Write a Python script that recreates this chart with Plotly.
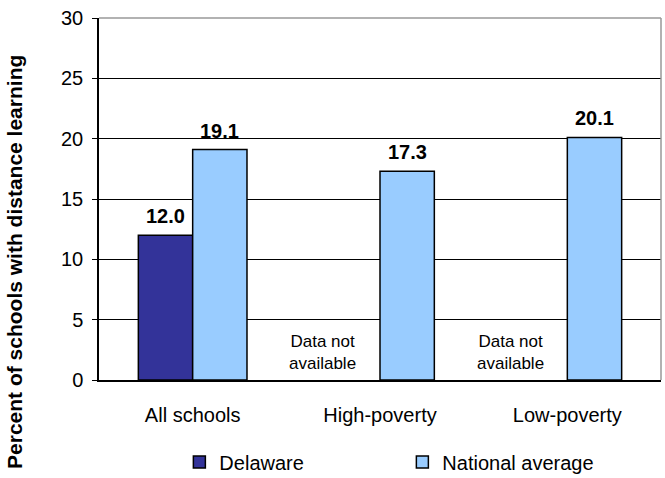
import plotly.graph_objects as go

categories = ["All schools", "High-poverty", "Low-poverty"]
delaware = [12.0, None, None]
national = [19.1, 17.3, 20.1]
y_ticks = [0, 5, 10, 15, 20, 25, 30]
na_text = "Data not<br>available"

FONT = "Liberation Sans, Arial, sans-serif"
x_pos = list(range(len(categories)))
bargap = 0.42
half = (1 - bargap) / 2  # width of one bar in category units

fig = go.Figure()
fig.add_trace(go.Bar(
    name="Delaware", x=x_pos, y=delaware,
    marker=dict(color="#333399", line=dict(color="black", width=1.5)),
))
fig.add_trace(go.Bar(
    name="National average", x=x_pos, y=national,
    marker=dict(color="#99CCFF", line=dict(color="black", width=1.5)),
))

# value labels
for i, v in enumerate(delaware):
    if v is not None:
        fig.add_annotation(x=i - half / 2, y=v, text=f"<b>{v:.1f}</b>", showarrow=False,
                           yanchor="middle", yshift=19, font=dict(size=20, color="black", family=FONT))
    else:
        fig.add_annotation(x=i - half / 2, y=2.28, text=na_text, showarrow=False,
                           xshift=-30, font=dict(size=17, color="black", family=FONT))
for i, v in enumerate(national):
    fig.add_annotation(x=i + half / 2, y=v, text=f"<b>{v:.1f}</b>", showarrow=False,
                       yanchor="middle", yshift=19, font=dict(size=20, color="black", family=FONT))

# y axis title as annotation (Excel-like placement)
fig.add_annotation(xref="paper", yref="paper", x=-0.1495, y=0.326,
                   xanchor="center", yanchor="middle",
                   text="<b>Percent of schools with distance learning</b>", textangle=-90,
                   showarrow=False, font=dict(size=21, color="black", family=FONT))

# gray top and right border
fig.add_shape(type="line", xref="paper", yref="paper", x0=0, x1=1, y0=1, y1=1,
              line=dict(color="#999999", width=1.5), layer="above")
fig.add_shape(type="line", xref="paper", yref="paper", x0=1, x1=1, y0=0, y1=1,
              line=dict(color="#999999", width=1.5), layer="above")

fig.update_layout(
    width=665, height=478,
    margin=dict(l=99, r=4, t=18, b=98, autoexpand=False),
    paper_bgcolor="white", plot_bgcolor="white",
    barmode="group", bargap=bargap, bargroupgap=0,
    font=dict(family=FONT, color="black", size=20),
    showlegend=True,
    legend=dict(orientation="h", xref="paper", yref="paper", x=0.143, y=-0.2265,
                xanchor="left", yanchor="middle", entrywidth=178, entrywidthmode="pixels",
                font=dict(size=20, family=FONT), itemclick=False),
    xaxis=dict(
        tickvals=x_pos, ticktext=categories, range=[-0.5, len(categories) - 0.5],
        showline=True, linecolor="black", linewidth=1.5, ticks="",
        showgrid=False, zeroline=False, ticklabelstandoff=16,
        tickfont=dict(size=20, family=FONT, color="black"),
    ),
    yaxis=dict(
        range=[0, 30], tickvals=y_ticks, showline=True, linecolor="black", linewidth=1.5,
        ticks="outside", ticklen=5, tickcolor="black", showgrid=True, gridcolor="black",
        gridwidth=1, zeroline=False, ticklabelstandoff=5,
        tickfont=dict(size=20, family=FONT, color="black"),
    ),
)

fig.write_html("out.html")
